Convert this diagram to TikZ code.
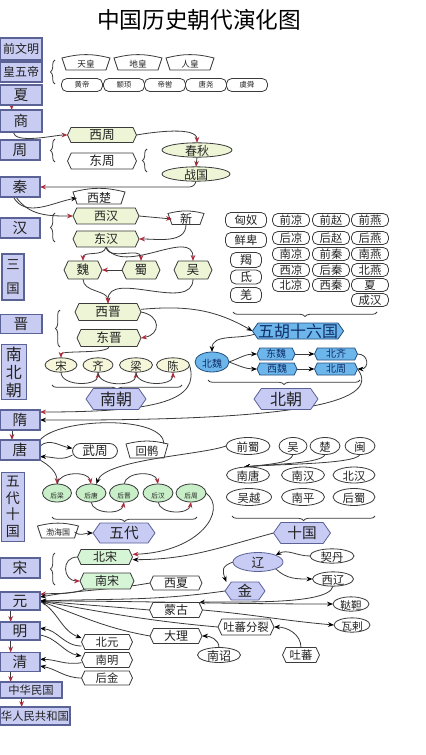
\documentclass[tikz,border=0pt]{standalone}
\usepackage{fontspec}
\setmainfont{Noto Sans CJK SC}
\usetikzlibrary{shapes.geometric,shapes.symbols,shapes.misc,arrows.meta,decorations.pathreplacing,backgrounds}
\definecolor{lcF}{HTML}{C9CCF2}
\definecolor{lcD}{HTML}{5A6296}
\definecolor{grn}{HTML}{EEF5D6}
\definecolor{lgr}{HTML}{C9EFC9}
\definecolor{sgr}{HTML}{D6F4D6}
\definecolor{yel}{HTML}{F6F6DA}
\definecolor{blu}{HTML}{6CB6EC}
\definecolor{bluD}{HTML}{24507E}
\definecolor{bluT}{HTML}{102E66}
\definecolor{lav}{HTML}{C8CCF4}
\definecolor{redA}{HTML}{B02A3A}
\definecolor{ink}{HTML}{222222}
\definecolor{lnk}{HTML}{3A3A3A}
\newcommand\fs[1]{\fontsize{#1pt}{#1pt}\selectfont}
\newcommand\fanout[1]{\draw[fanline] ([xshift=-3pt]#1.north west) to[bend left=14] ([xshift=3pt]#1.north east) -- (#1.south east) -- (#1.south west) -- cycle;}
\begin{document}
\begin{tikzpicture}[x=0.75pt,y=0.75pt,
  wh/.style 2 args={minimum width=#1*0.75pt,minimum height=#2*0.75pt},
  base/.style={inner sep=0pt,outer sep=0pt,text=ink,line width=0.6pt},
  lcol/.style={base,rectangle,fill=lcF,draw=lcD,line width=1pt},
  hexa/.style={base,signal,signal to=east and west,signal pointer angle=130,draw=lnk},
  ghex/.style={hexa,fill=grn},
  whex/.style={hexa,fill=white},
  shex/.style={hexa,fill=sgr},
  bhex/.style={hexa,fill=blu,draw=bluD,text=bluT},
  lhex/.style={hexa,fill=lav,draw=lcD,signal pointer angle=110},
  ell/.style={base,ellipse,draw=lnk,fill=white,text height=0.76em,text depth=0pt},
  rnd/.style={base,rectangle,rounded corners=4pt,draw=lnk,fill=white},
  fan/.style={base},
  fanline/.style={draw=lnk,line width=0.6pt},
  brc/.style={draw=lnk,line width=0.6pt,decorate,decoration={brace,amplitude=3.5pt}},
  ra/.style={draw=lnk,line width=0.6pt,-{Stealth[length=4.5pt,width=3.5pt,color=redA]}},
  da/.style={draw=lnk,line width=0.6pt,-{Stealth[length=4.5pt,width=3.5pt,color=black]}}]
\useasboundingbox (0,0) rectangle (425,-755);

\node[font=\fs{17}] (title) at (199,-20) {中国历史朝代演化图};

% left column
\node[lcol,wh={42}{22},font=\fs{9}] (qwm) at (21,-49) {前文明};
\node[lcol,wh={42}{20},font=\fs{9}] (hwd) at (21,-72) {皇五帝};
\node[lcol,wh={42}{20},font=\fs{11}] (xia) at (21,-95) {夏};
\node[lcol,wh={42}{22},font=\fs{11}] (shang) at (21,-121) {商};
\node[lcol,wh={40}{20},font=\fs{11}] (zhou) at (20,-150) {周};
\node[lcol,wh={40}{20},font=\fs{11}] (qin) at (20,-187) {秦};
\node[lcol,wh={40}{20},font=\fs{11}] (han) at (20,-228) {汉};
\node[lcol,wh={22}{46},align=center,font=\fontsize{10}{18}\selectfont] (sanguo) at (13,-277) {三\\国};
\node[lcol,wh={42}{19},font=\fs{11}] (jin) at (21,-324) {晋};
\node[lcol,wh={25}{55},align=center,font=\fontsize{12}{13.5}\selectfont] (nbc) at (14,-372) {南\\北\\朝};
\node[lcol,wh={40}{20},font=\fs{11}] (sui) at (20,-420) {隋};
\node[lcol,wh={40}{20},font=\fs{11}] (tang) at (20,-450) {唐};
\node[lcol,wh={23}{69},align=center,font=\fontsize{10.5}{12.5}\selectfont] (wdsg) at (13,-507) {五\\代\\十\\国};
\node[lcol,wh={40}{20},font=\fs{11}] (song) at (20,-568) {宋};
\node[lcol,wh={40}{18},font=\fs{11}] (yuan) at (20,-601) {元};
\node[lcol,wh={40}{18},font=\fs{11}] (ming) at (20,-631) {明};
\node[lcol,wh={40}{19},font=\fs{11}] (qing) at (20,-662) {清};
\node[lcol,wh={62}{16},font=\fs{8.5}] (zhmg) at (31,-690) {中华民国};
\node[lcol,wh={70}{18},font=\fs{8.5}] (zhrm) at (35,-716) {华人民共和国};

% legendary
\node[fan,wh={40}{12},font=\fs{6.5}] (tianhuang) at (86,-64) {天皇};
\node[fan,wh={40}{12},font=\fs{6.5}] (dihuang) at (138,-64) {地皇};
\node[fan,wh={40}{12},font=\fs{6.5}] (renhuang) at (190,-64) {人皇};
\node[rnd,wh={41}{13},font=\fs{5.5}] (huangdi) at (82,-85) {黄帝};
\node[rnd,wh={41}{13},font=\fs{5.5}] (zhuanxu) at (124,-85) {颛顼};
\node[rnd,wh={41}{13},font=\fs{5.5}] (diku) at (165,-85) {帝喾};
\node[rnd,wh={41}{13},font=\fs{5.5}] (tangyao) at (206,-85) {唐尧};
\node[rnd,wh={41}{13},font=\fs{5.5}] (yushun) at (247,-85) {虞舜};
\draw[brc] (55,-84) -- (55,-60);

% zhou / qin / han
\node[ghex,wh={69}{15},font=\fs{9.5}] (xizhou) at (102,-135) {西周};
\node[whex,wh={69}{16},font=\fs{9.5}] (dongzhou) at (102,-161) {东周};
\node[ell,fill=grn,wh={70}{14},font=\fs{9}] (chunqiu) at (197,-150) {春秋};
\node[ell,fill=grn,wh={68}{13},font=\fs{9}] (zhanguo) at (196,-174) {战国};
\draw[brc] (55,-162) -- (55,-139);
\draw[brc] (147,-172) -- (147,-149);
\node[fan,wh={44}{12},font=\fs{9}] (xichu) at (99,-198) {西楚};
\node[ghex,wh={66}{16},font=\fs{9}] (xihan) at (106,-216) {西汉};
\node[ghex,wh={66}{16},font=\fs{9}] (donghan) at (106,-239) {东汉};
\node[fan,wh={28}{11},font=\fs{9}] (xin) at (186,-219) {新};
\draw[brc] (55,-242) -- (55,-213);
\node[ghex,wh={38}{18},font=\fs{9.5}] (wei) at (83,-270) {魏};
\node[ghex,wh={38}{18},font=\fs{9.5}] (shu) at (141,-270) {蜀};
\node[ghex,wh={38}{18},font=\fs{9.5}] (wu) at (193,-270) {吴};
\node[ghex,wh={66}{17},font=\fs{9.5}] (xijin) at (108,-312) {西晋};
\node[ghex,wh={64}{17},font=\fs{9.5}] (dongjin) at (109,-338) {东晋};
\draw[brc] (60,-347) -- (60,-310);

% tribes and sixteen kingdoms
\node[rnd,wh={41}{15},font=\fs{8.5}] (xiongnu) at (246,-220) {匈奴};
\node[rnd,wh={41}{15},font=\fs{8.5}] (xianbei) at (246,-240) {鲜卑};
\node[rnd,wh={31}{15},font=\fs{9}] (jie) at (246,-260) {羯};
\node[rnd,wh={31}{14},font=\fs{9}] (di) at (246,-277) {氐};
\node[rnd,wh={31}{15},font=\fs{9}] (qiang) at (246,-295) {羌};
\node[rnd,wh={37}{13},font=\fs{8.5}] (qianliang) at (291,-220) {前凉};
\node[rnd,wh={37}{13},font=\fs{8.5}] (qianzhao) at (331,-220) {前赵};
\node[rnd,wh={37}{13},font=\fs{8.5}] (qianyan) at (370,-220) {前燕};
\node[rnd,wh={37}{13},font=\fs{8.5}] (houliangw) at (291,-238) {后凉};
\node[rnd,wh={37}{13},font=\fs{8.5}] (houzhao) at (331,-238) {后赵};
\node[rnd,wh={37}{13},font=\fs{8.5}] (houyan) at (370,-238) {后燕};
\node[rnd,wh={37}{13},font=\fs{8.5}] (nanliang) at (291,-254) {南凉};
\node[rnd,wh={37}{13},font=\fs{8.5}] (qianqin) at (331,-254) {前秦};
\node[rnd,wh={37}{13},font=\fs{8.5}] (nanyan) at (370,-254) {南燕};
\node[rnd,wh={37}{13},font=\fs{8.5}] (xiliang) at (291,-270) {西凉};
\node[rnd,wh={37}{13},font=\fs{8.5}] (houqin) at (331,-270) {后秦};
\node[rnd,wh={37}{13},font=\fs{8.5}] (beiyan) at (370,-270) {北燕};
\node[rnd,wh={37}{13},font=\fs{8.5}] (beiliang) at (291,-285) {北凉};
\node[rnd,wh={37}{13},font=\fs{8.5}] (xiqin) at (331,-285) {西秦};
\node[rnd,wh={37}{13},font=\fs{8.5}] (xiaw) at (370,-285) {夏};
\node[rnd,wh={37}{13},font=\fs{8.5}] (chenghan) at (370,-300) {成汉};
\draw[brc] (377,-312) -- (233,-312);
\node[bhex,wh={90}{16},font=\fs{12},signal pointer angle=110] (wuhu) at (298,-331) {五胡十六国};

% north
\node[ell,fill=blu,draw=bluD,text=bluT,wh={34}{20},font=\fs{7.5}] (beiwei) at (212,-362) {北魏};
\node[bhex,wh={38}{12},font=\fs{7.5}] (dongwei) at (276,-354) {东魏};
\node[bhex,wh={40}{12},font=\fs{7.5}] (xiwei) at (277,-369) {西魏};
\node[bhex,wh={43}{12},font=\fs{7.5}] (beiqi) at (336,-354) {北齐};
\node[bhex,wh={43}{12},font=\fs{7.5}] (beizhou) at (336,-369) {北周};
\draw[brc] (360,-380) -- (208,-380);
\node[lhex,wh={64}{21},font=\fs{12}] (beichao) at (286,-399) {北朝};

% south
\node[ell,fill=yel,wh={32}{14},font=\fs{8.5}] (songs) at (61,-365) {宋};
\node[ell,fill=yel,wh={30}{14},font=\fs{8.5}] (qi) at (98,-365) {齐};
\node[ell,fill=yel,wh={33}{14},font=\fs{8.5}] (liang) at (136,-365) {梁};
\node[ell,fill=yel,wh={33}{14},font=\fs{8.5}] (chen) at (173,-365) {陈};
\draw[brc] (182,-385) -- (52,-385);
\node[lhex,wh={60}{21},font=\fs{12}] (nanchao) at (116,-399) {南朝};

% tang / five dynasties
\node[rnd,rounded corners=6pt,wh={45}{15},font=\fs{9.5}] (wuzhou) at (95,-451) {武周};
\node[fan,wh={34}{14},font=\fs{8.5}] (huihu) at (147,-451) {回鹘};
\node[ell,fill=lgr,wh={29}{18},font=\fs{5}] (houliang) at (57,-493) {后梁};
\node[ell,fill=lgr,wh={30}{18},font=\fs{5}] (houtang) at (91,-493) {后唐};
\node[ell,fill=lgr,wh={29}{18},font=\fs{5}] (houjin) at (124,-493) {后晋};
\node[ell,fill=lgr,wh={30}{18},font=\fs{5}] (houhan) at (158,-493) {后汉};
\node[ell,fill=lgr,wh={30}{18},font=\fs{5}] (houzhou) at (191,-493) {后周};
\draw[brc] (197,-517) -- (52,-517);
\node[lhex,wh={62}{20},font=\fs{11}] (wudai) at (124,-533) {五代};
\node[fan,wh={33}{12},font=\fs{6}] (bohai) at (58,-532) {渤海国};

% ten kingdoms
\node[ell,wh={44}{17},font=\fs{8.5}] (qianshu) at (248,-446) {前蜀};
\node[ell,wh={28}{17},font=\fs{8.5}] (wut) at (293,-446) {吴};
\node[ell,wh={30}{17},font=\fs{8.5}] (chu) at (325,-446) {楚};
\node[ell,wh={30}{17},font=\fs{8.5}] (min) at (360,-446) {闽};
\node[ell,wh={43}{16},font=\fs{8.5}] (nantang) at (248,-475) {南唐};
\node[ell,wh={43}{16},font=\fs{8.5}] (nanhan) at (303,-475) {南汉};
\node[ell,wh={42}{16},font=\fs{8.5}] (beihan) at (354,-475) {北汉};
\node[ell,wh={45}{17},font=\fs{8.5}] (wuyue) at (249,-497) {吴越};
\node[ell,wh={43}{17},font=\fs{8.5}] (nanping) at (303,-497) {南平};
\node[ell,wh={42}{17},font=\fs{8.5}] (houshu) at (354,-497) {后蜀};
\draw[brc] (375,-516) -- (232,-516);
\node[lhex,wh={57}{21},font=\fs{11}] (shiguo) at (302,-533) {十国};

% song onwards
\node[shex,wh={55}{15},font=\fs{9}] (beisong) at (105,-557) {北宋};
\node[shex,wh={54}{16},font=\fs{9}] (nansong) at (107,-581) {南宋};
\draw[brc] (55,-585) -- (55,-553);
\node[whex,wh={52}{14},font=\fs{9}] (xixia) at (176,-583) {西夏};
\node[ell,fill=lav,draw=lcD,wh={50}{19},font=\fs{9.5}] (liao) at (258,-562) {辽};
\node[ell,wh={44}{13},font=\fs{8.5}] (qidan) at (332,-556) {契丹};
\node[ell,wh={41}{12},font=\fs{8.5}] (xiliao) at (333,-579) {西辽};
\node[lhex,wh={40}{18},font=\fs{11}] (jinn) at (245,-591) {金};
\node[whex,wh={53}{15},font=\fs{9}] (menggu) at (176,-610) {蒙古};
\node[ell,wh={36}{14},font=\fs{8}] (dada) at (351,-604) {鞑靼};
\node[ell,wh={36}{14},font=\fs{8}] (wala) at (352,-625) {瓦剌};
\node[whex,wh={56}{16},font=\fs{8.5}] (tubofl) at (246,-627) {吐蕃分裂};
\node[whex,wh={37}{15},font=\fs{8.5}] (tubo) at (301,-655) {吐蕃};
\node[whex,wh={52}{15},font=\fs{9}] (dali) at (176,-636) {大理};
\node[ell,wh={43}{15},font=\fs{9}] (nanzhao) at (219,-655) {南诏};
\node[whex,wh={51}{15},font=\fs{8.5}] (beiyuan) at (107,-642) {北元};
\node[whex,wh={51}{15},font=\fs{8.5}] (nanming) at (107,-660) {南明};
\node[whex,wh={51}{14},font=\fs{8.5}] (houjinn) at (107,-678) {后金};

\fanout{tianhuang}\fanout{dihuang}\fanout{renhuang}
\fanout{xichu}\fanout{xin}\fanout{bohai}\fanout{huihu}

\begin{scope}[on background layer]
\fill[white] (0,0) rectangle (425,-755);
% red-tipped
\draw[ra] ([xshift=-7pt]xia.south) -- ([xshift=-7pt]shang.north);
\draw[ra] ([xshift=-6pt]shang.south) to[out=-80,in=180,looseness=0.6] (xizhou.west);
\draw[ra] (xizhou.east) to[out=10,in=90,looseness=0.7] (chunqiu.north);
\draw[ra] (chunqiu.south) -- (zhanguo.north);
\draw[ra,rounded corners=5pt] (zhanguo.south) |- (qin.east);
\draw[da] ([xshift=-5pt]qin.south) to[out=-60,in=190] (xichu.west);
\draw[ra] ([xshift=-3pt]qin.south) to[out=-55,in=180] (xihan.west);
\draw[ra] (xihan.east) -- (xin.west);
\draw[ra] (xin.south) to[out=-90,in=0] (donghan.east);
\draw[ra] (donghan.south) to[out=-100,in=90] (wei.north);
\draw[ra] (donghan.south) to[out=-80,in=90] (shu.north);
\draw[ra] (donghan.south) to[out=-60,in=90] (wu.north);
\draw[ra] (shu.west) -- (wei.east);
\draw[ra] (wei.south) to[out=-90,in=90] (xijin.north);
\draw[ra] (wu.south) to[out=-90,in=90] (xijin.north);
\draw[ra] (xijin.east) to[out=-10,in=10,looseness=2] (dongjin.east);
\draw[ra] (dongjin.south) to[out=-90,in=90,looseness=0.4] (songs.north);
\draw[ra] (songs.south) to[out=-90,in=-90] (qi.south);
\draw[ra] (qi.south) to[out=-90,in=-90] (liang.south);
\draw[ra] (liang.south) to[out=-90,in=-90] (chen.south);
\draw[ra] (chen.east) .. controls (200,-400) and (160,-412) .. ([yshift=6pt]sui.east);
\draw[ra] ([xshift=-6pt]sui.south) -- ([xshift=-6pt]tang.north);
\draw[ra] (tang.south east) to[out=-30,in=90] (houliang.north);
\draw[ra] (houliang.north) to[out=80,in=100] (houtang.north);
\draw[ra] (houtang.south) to[out=-80,in=-100] (houjin.south);
\draw[ra] (houjin.north) to[out=80,in=100] (houhan.north);
\draw[ra] (houhan.south) to[out=-80,in=-100] (houzhou.south);
\draw[ra] (houzhou.east) .. controls (228,-510) and (200,-552) .. ([yshift=2pt]beisong.east);
\draw[ra] (beisong.west) to[out=180,in=180,looseness=1.8] (nansong.west);
\draw[ra] ([xshift=-16pt]nansong.south) to[out=-160,in=5] ([yshift=5pt]yuan.east);
\draw[ra] ([xshift=-7pt]yuan.south) -- ([xshift=-7pt]ming.north);
\draw[ra] ([xshift=-7pt]ming.south) -- ([xshift=-7pt]qing.north);
\draw[ra] ([xshift=-7pt]qing.south) -- ([xshift=-7pt]qing.south |- zhmg.north);
\draw[ra] ([xshift=-7pt]zhmg.south) -- ([xshift=-7pt]zhmg.south |- zhrm.north);
% dark-tipped
\draw[da] ([yshift=2pt]xijin.east) to[out=5,in=150] (wuhu.west);
\draw[da] ([xshift=3pt,yshift=-2pt]wuhu.west) to[out=200,in=90] (beiwei.north);
\draw[da] (beiwei.east) to[out=20,in=180] (dongwei.west);
\draw[da] (beiwei.east) to[out=-20,in=180] (xiwei.west);
\draw[da] (dongwei.east) -- (beiqi.west);
\draw[da] (xiwei.east) -- (beizhou.west);
\draw[da] (beiqi.east) to[out=0,in=0,looseness=2] (beizhou.east);
\draw[da] (beizhou.east) .. controls (385,-405) and (280,-421) .. (sui.east);
\draw[da] ([yshift=3pt]tang.east) to[out=40,in=170] ([yshift=2pt]wuzhou.west);
\draw[da] ([yshift=-3pt]wuzhou.west) to[out=-150,in=0] ([yshift=-5pt]tang.east);
\draw[draw=lnk,line width=0.6pt] (tang.north east) to[out=50,in=90,looseness=0.6] (huihu.north east);
\draw[da] (qianshu.west) to[out=200,in=70,looseness=0.5] ([xshift=4pt]houtang.north);
\draw[da] (wut.south) .. controls +(-2,-8) and +(30,3) .. ([xshift=-3pt]nantang.north);
\draw[da] (chu.south) .. controls +(-3,-9) and +(30,3) .. ([xshift=-3pt]nantang.north);
\draw[da] (min.south) .. controls +(-4,-10) and +(30,3) .. ([xshift=-3pt]nantang.north);
\draw[da] (shiguo.west) to[out=195,in=0] ([yshift=-2pt]beisong.east);
\draw[da] (bohai.east) to[out=-40,in=180] (wudai.west);
\draw[da] (qidan.west) to[out=180,in=30] (liao.north east);
\draw[da] (liao.south east) to[out=-45,in=180] (xiliao.west);
\draw[da] (liao.west) to[out=200,in=110,looseness=1.5] ([xshift=-14pt]jinn.north);
\draw[da] (xixia.west) to[out=190,in=10] ([yshift=3pt]yuan.east);
\draw[da] (jinn.west) to[out=188,in=2] (yuan.east);
\draw[da] (xiliao.south) to[out=-100,in=5,looseness=0.4] (menggu.north east);
\draw[da] (menggu.west) to[out=175,in=-5] (yuan.east);
\draw[da] (yuan.east) to[out=0,in=180] (dada.west);
\draw[da] (menggu.east) to[out=-5,in=175] (wala.west);
\draw[da] (tubofl.west) to[out=175,in=-10] (yuan.east);
\draw[da] (dali.west) to[out=170,in=-20] (yuan.east);
\draw[da] (tubo.north) to[out=90,in=0] (tubofl.east);
\draw[da] (nanzhao.north) to[out=90,in=0] (dali.east);
\draw[da] (yuan.east) to[out=-30,in=160] ([yshift=3pt]beiyuan.west);
\draw[da] ([yshift=-3pt]beiyuan.west) to[out=180,in=-5] ([yshift=2pt]ming.east);
\draw[da] ([yshift=-3pt]ming.east) to[out=-10,in=170] ([yshift=3pt]nanming.west);
\draw[da] ([yshift=-2pt]nanming.west) to[out=190,in=0] ([yshift=2pt]qing.east);
\draw[da] (houjinn.west) to[out=180,in=-10] ([yshift=-3pt]qing.east);
\end{scope}
\end{tikzpicture}
\end{document}
